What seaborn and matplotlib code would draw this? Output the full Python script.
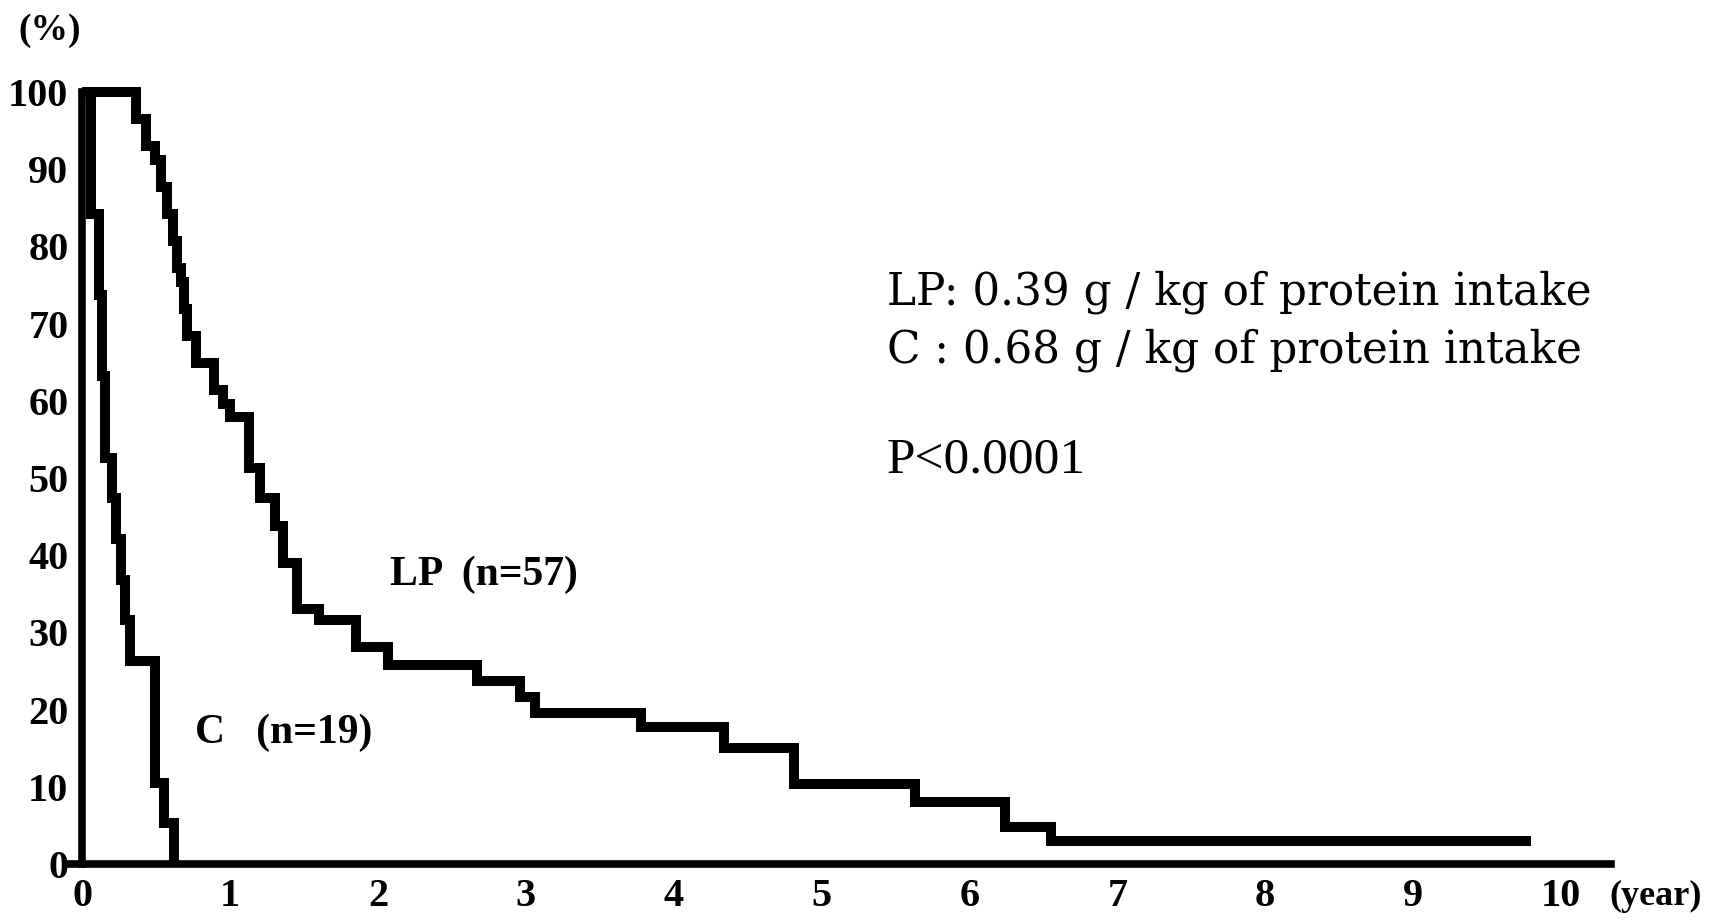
import numpy as np
import pandas as pd
import matplotlib
matplotlib.use("Agg")
import matplotlib.pyplot as plt
import seaborn as sns

# ---- data ----
lp_time = [0.0, 0.36, 0.43, 0.49, 0.53, 0.57, 0.61, 0.64, 0.67, 0.69, 0.71, 0.77,
           0.89, 0.95, 1.00, 1.13, 1.20, 1.30, 1.36, 1.45, 1.60, 1.85, 2.07, 2.67,
           2.96, 3.06, 3.78, 4.34, 4.81, 5.63, 6.24, 6.55, 9.80]
lp_surv = [100.0, 96.5, 93.0, 91.2, 87.7, 84.2, 80.7, 77.2, 75.4, 71.9, 68.4, 64.9,
           61.4, 59.6, 57.9, 51.3, 47.4, 43.8, 39.0, 33.0, 31.6, 28.1, 25.8, 23.7,
           21.6, 19.5, 17.7, 15.0, 10.3, 8.0, 4.8, 3.0, 3.0]

c_time = [0.0, 0.06, 0.115, 0.13, 0.15, 0.20, 0.23, 0.26, 0.29, 0.32, 0.49, 0.555, 0.62]
c_surv = [100.0, 84.2, 73.7, 63.2, 52.6, 47.4, 42.1, 36.8, 31.6, 26.3, 10.5, 5.3, 0.0]

x_ticks = list(range(0, 11))
y_ticks = list(range(0, 101, 10))

groups = ["LP", "C"]
group_labels = ["LP  (n=57)", "C   (n=19)"]
note_lines = ["LP: 0.39 g / kg of protein intake",
              "C : 0.68 g / kg of protein intake"]
p_text = "P<0.0001"

sns.set_theme(style="white")
plt.rcParams["font.family"] = ["Liberation Serif", "DejaVu Serif"]
plt.rcParams["text.color"] = "black"
plt.rcParams["xtick.color"] = "black"
plt.rcParams["ytick.color"] = "black"
plt.rcParams["axes.labelcolor"] = "black"

fig = plt.figure(figsize=(17.25, 9.21), dpi=100)
ax = fig.add_axes([0.0383, 0.0619, 0.8957, 0.8381])

df = pd.concat([
    pd.DataFrame({"time": lp_time, "surv": lp_surv, "group": groups[0]}),
    pd.DataFrame({"time": c_time, "surv": c_surv, "group": groups[1]}),
])

for g in groups:
    sub = df[df.group == g]
    sns.lineplot(data=sub, x="time", y="surv", ax=ax, color="black",
                 linewidth=7.2, drawstyle="steps-post", estimator=None,
                 sort=False, legend=False, clip_on=False,
                 solid_joinstyle="miter", solid_capstyle="butt")

ax.set_xlim(-0.11, 10.34)
ax.set_ylim(0, 100)
ax.set_xticks(x_ticks)
ax.set_yticks(y_ticks)
ax.set_xlabel("")
ax.set_ylabel("")
for s in ["top", "right"]:
    ax.spines[s].set_visible(False)
ax.spines["left"].set_position(("data", 0))
for s in ["left", "bottom"]:
    ax.spines[s].set_linewidth(5.5)
    ax.spines[s].set_color("black")
ax.tick_params(axis="both", direction="out", length=9, width=5, color="black",
               labelcolor="black", labelsize=29, pad=1)
for lab in ax.get_xticklabels() + ax.get_yticklabels():
    lab.set_fontweight("bold")

# axis unit labels
fig.text(50 / 1725, 1 - 30 / 921, "(%)", ha="center", va="center",
         fontsize=27, fontweight="bold")
fig.text(1656 / 1725, 1 - 896 / 921, "(year)", ha="center", va="center",
         fontsize=26, fontweight="bold")

# group labels
ax.text(2.08, 37.5, group_labels[0], ha="left", va="center", fontsize=30,
        fontweight="bold")
ax.text(0.76, 17.0, group_labels[1], ha="left", va="center", fontsize=30,
        fontweight="bold")

# notes
fig.text(887 / 1725, 1 - 292 / 921, note_lines[0], ha="left", va="center",
         fontsize=31.5, family=["DejaVu Serif"])
fig.text(887 / 1725, 1 - 350 / 921, note_lines[1], ha="left", va="center",
         fontsize=31.5, family=["DejaVu Serif"])
fig.text(887 / 1725, 1 - 460 / 921, p_text, ha="left", va="center",
         fontsize=37, family=["Liberation Serif"])

fig.savefig("out.png", dpi=100, facecolor="white")
